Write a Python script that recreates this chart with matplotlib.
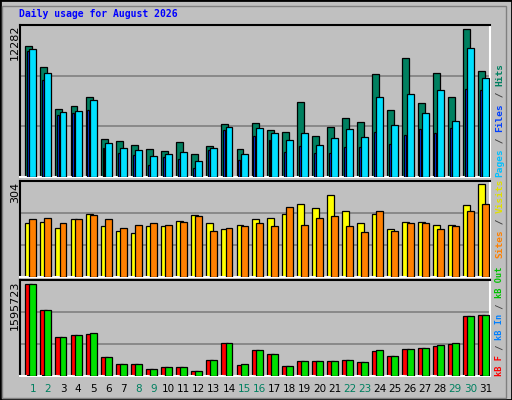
import matplotlib
matplotlib.use("Agg")
import matplotlib.pyplot as plt
import numpy as np
from matplotlib.patches import Rectangle

days = list(range(1, 32))
hits = [10894,9115,5697,5947,6614,3140,3029,2696,2362,2195,2946,1945,2612,4446,2362,4530,
        3946,3779,6197,3446,4196,4947,4613,8532,5614,9865,6114,8615,6614,12282,8782]
files = [10616,8615,5447,5530,6364,2862,2446,2279,1779,1945,2112,1362,2446,4196,1945,4113,
         3696,3112,3696,2696,3279,4030,3363,6614,4363,6864,5363,7198,4697,10699,8198]
pages = [10449,8031,5197,5363,5614,2446,2029,1862,1028,1695,1528,778,2279,3946,1445,3446,
         3112,2112,2612,2029,2029,2529,2529,3779,2779,3529,4030,3696,4113,7281,7198]
visits = [176,182,162,189,208,166,152,146,166,166,185,202,176,159,172,189,
          192,208,241,228,268,218,176,208,159,179,182,172,169,235,304]
sites = [189,192,176,189,202,189,162,169,176,169,182,199,152,162,166,176,
         166,231,172,195,199,166,149,215,152,176,176,159,166,218,241]
kb_f = [1595723,1141465,687208,722151,739623,337780,215480,215480,128124,163066,163066,93181,
        285366,582380,198009,460080,390195,180538,267895,267895,267895,285366,250423,442609,
        355252,477552,495023,529966,564909,1036636,1054108]
kb_out = [1595723,1141465,687208,722151,757094,337780,215480,215480,128124,163066,163066,93181,
          285366,582380,215480,460080,390195,180538,267895,267895,267895,285366,250423,460080,
          355252,477552,495023,547437,582380,1036636,1054108]
kb_in = [16000,11000,7000,7000,7500,3400,2200,2200,1300,1600,1600,900,2900,5800,2000,4600,
         3900,1800,2700,2700,2700,2900,2500,4500,3600,4800,5000,5400,5800,10400,10500]
weekend = {1,2,8,9,15,16,22,23,29,30}

W, H = 512, 400
fig = plt.figure(figsize=(5.12, 4.0), dpi=100)
fig.patch.set_facecolor("#c0c0c0")
mono = "DejaVu Sans Mono"

def ax_px(x0, y0, x1, y1):
    return fig.add_axes([x0 / W, 1 - y1 / H, (x1 - x0) / W, (y1 - y0) / H])

x = np.array(days, dtype=float)
XL = (0.45, 31.6)

def style(ax, top):
    ax.set_facecolor("#c0c0c0")
    ax.set_xlim(*XL)
    ax.set_ylim(0, top)
    ax.set_xticks([]); ax.set_yticks([])
    for yy in (top / 3, 2 * top / 3):
        ax.axhline(yy, color="#808080", lw=1.2, zorder=0)
    ax.spines["left"].set_color("black"); ax.spines["top"].set_color("black")
    ax.spines["right"].set_color("white"); ax.spines["bottom"].set_color("white")
    for s in ax.spines.values():
        s.set_linewidth(1.5)

ek = dict(edgecolor="black", linewidth=0.9, align="edge")

a1 = ax_px(20, 25, 490, 177)
style(a1, max(hits) * 455 / 442)
a1.bar(x - 0.2, hits, 0.46, color="#008060", zorder=2, **ek)
a1.bar(x - 0.08, pages, 0.13, color="#0040ff", zorder=3, **ek)
a1.bar(x + 0.07, files, 0.46, color="#00e0ff", zorder=4, **ek)

a2 = ax_px(20, 181, 490, 277)
style(a2, max(visits) * 287 / 277)
a2.bar(x - 0.2, visits, 0.46, color="#ffff00", zorder=2, **ek)
a2.bar(x + 0.07, sites, 0.46, color="#ff8000", zorder=3, **ek)

a3 = ax_px(20, 280, 490, 376)
style(a3, max(kb_f) * 287 / 274)
a3.bar(x - 0.2, kb_f, 0.46, color="#ff0000", zorder=2, **ek)
a3.bar(x - 0.08, kb_in, 0.13, color="#0080ff", zorder=3, **ek)
a3.bar(x + 0.07, kb_out, 0.46, color="#00e000", zorder=4, **ek)

for d in days:
    xp = 20 + (d + 0.3 - XL[0]) / (XL[1] - XL[0]) * 470
    fig.text(xp / W, 1 - 389 / H, str(d), ha="center", va="center", fontsize=7.5,
             color="#008060" if d in weekend else "black")

# axis max labels
for txt, ytop in (("12282", 25), ("304", 182), ("1595723", 281)):
    fig.text(15 / W, 1 - ytop / H, txt, rotation=90, ha="center", va="top", fontsize=8)

fig.text(19 / W, 1 - 14 / H, "Daily usage for August 2026", fontsize=7, family=mono,
         weight="bold", color="#0000ff", ha="left", va="center")

def legend(pieces, ybase, fs=6.8):
    cw = 0.6 * fs * 100 / 72
    off = 0
    for t, c in pieces:
        fig.text(500 / W, 1 - (ybase - off) / H, t, rotation=90, ha="center", va="bottom",
                 fontsize=fs, family=mono, color=c, weight="bold")
        off += cw * len(t)

legend([("Pages", "#00c0ff"), (" / ", "#404040"), ("Files", "#0040ff"),
        (" / ", "#404040"), ("Hits", "#008060")], 137 + 40)
legend([("Sites", "#ff8000"), (" / ", "#404040"), ("Visits", "#e0e000")], 258)
legend([("kB F", "#ff0000"), (" / ", "#404040"), ("kB In", "#0080ff"),
        (" / ", "#404040"), ("kB Out", "#00c000")], 376, fs=6.2)

fig.patches.append(Rectangle((0, 0), 1, 1, transform=fig.transFigure, fill=False,
                             edgecolor="black", lw=2))
fig.patches.append(Rectangle((2 / W, 2 / H), 1 - 8 / W, 1 - 8 / H, transform=fig.transFigure,
                             fill=False, edgecolor="#808080", lw=1))

fig.savefig("out.png", dpi=100, facecolor=fig.get_facecolor())
